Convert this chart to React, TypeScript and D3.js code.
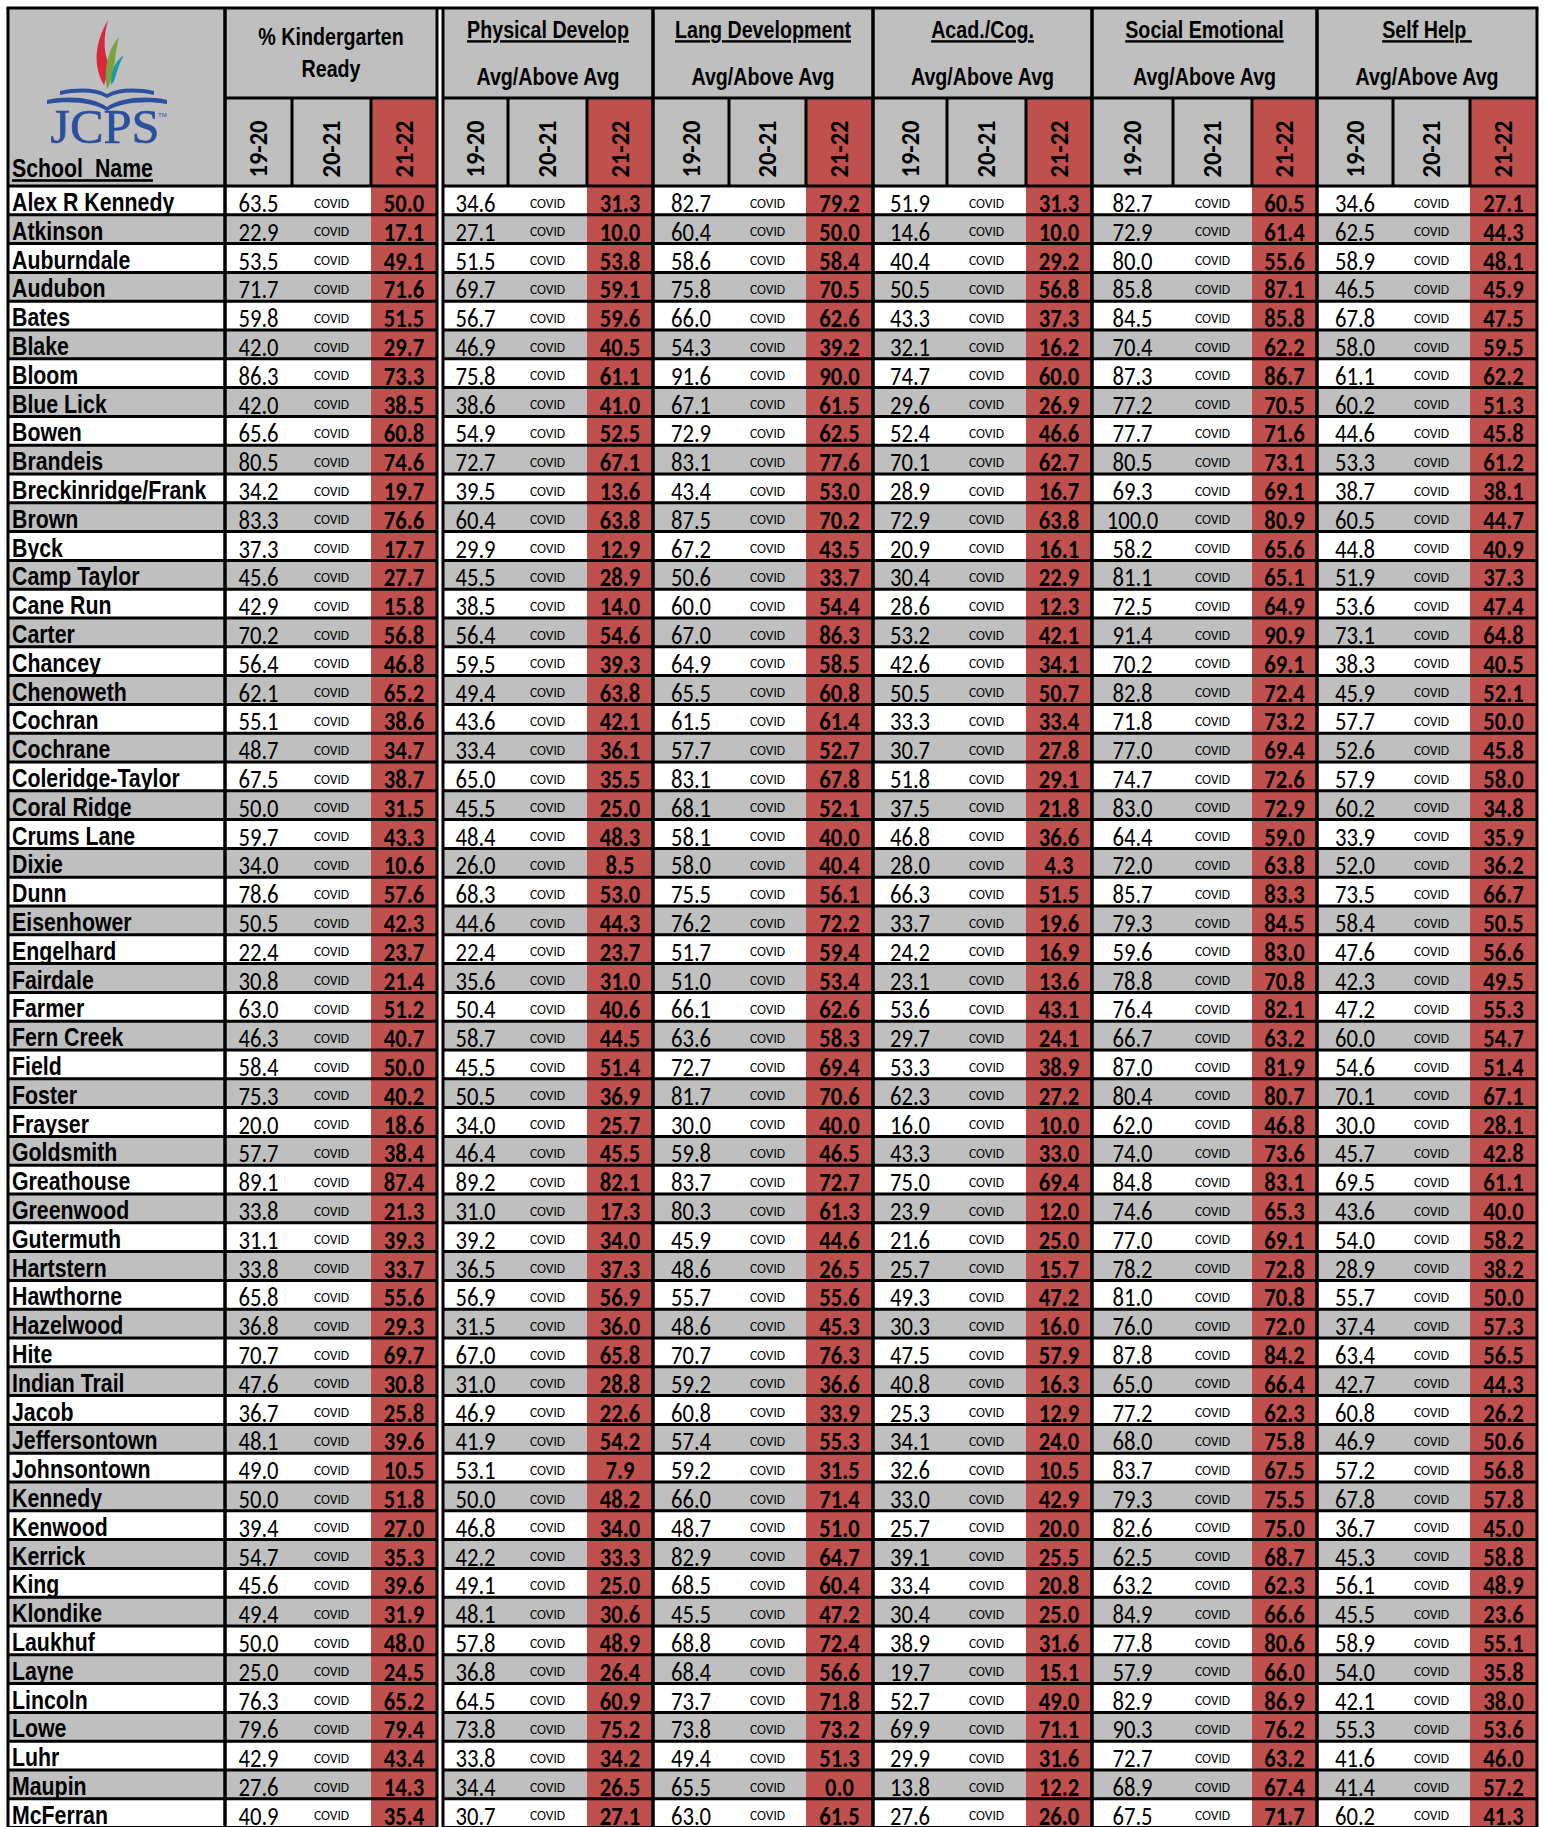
import * as d3 from "d3";

// --- data -------------------------------------------------------------
const schools = [
  "Alex R Kennedy", "Atkinson", "Auburndale", "Audubon", "Bates", "Blake", "Bloom", "Blue Lick",
  "Bowen", "Brandeis", "Breckinridge/Frank", "Brown", "Byck", "Camp Taylor", "Cane Run", "Carter",
  "Chancey", "Chenoweth", "Cochran", "Cochrane", "Coleridge-Taylor", "Coral Ridge", "Crums Lane",
  "Dixie", "Dunn", "Eisenhower", "Engelhard", "Fairdale", "Farmer", "Fern Creek", "Field", "Foster",
  "Frayser", "Goldsmith", "Greathouse", "Greenwood", "Gutermuth", "Hartstern", "Hawthorne",
  "Hazelwood", "Hite", "Indian Trail", "Jacob", "Jeffersontown", "Johnsontown", "Kennedy", "Kenwood",
  "Kerrick", "King", "Klondike", "Laukhuf", "Layne", "Lincoln", "Lowe", "Luhr", "Maupin", "McFerran",
];

const years = ["19-20", "20-21", "21-22"];
const covidLabel = "COVID";

const kr1920 = [63.5, 22.9, 53.5, 71.7, 59.8, 42.0, 86.3, 42.0, 65.6, 80.5, 34.2, 83.3, 37.3, 45.6, 42.9, 70.2, 56.4, 62.1, 55.1, 48.7, 67.5, 50.0, 59.7, 34.0, 78.6, 50.5, 22.4, 30.8, 63.0, 46.3, 58.4, 75.3, 20.0, 57.7, 89.1, 33.8, 31.1, 33.8, 65.8, 36.8, 70.7, 47.6, 36.7, 48.1, 49.0, 50.0, 39.4, 54.7, 45.6, 49.4, 50.0, 25.0, 76.3, 79.6, 42.9, 27.6, 40.9];
const kr2122 = [50.0, 17.1, 49.1, 71.6, 51.5, 29.7, 73.3, 38.5, 60.8, 74.6, 19.7, 76.6, 17.7, 27.7, 15.8, 56.8, 46.8, 65.2, 38.6, 34.7, 38.7, 31.5, 43.3, 10.6, 57.6, 42.3, 23.7, 21.4, 51.2, 40.7, 50.0, 40.2, 18.6, 38.4, 87.4, 21.3, 39.3, 33.7, 55.6, 29.3, 69.7, 30.8, 25.8, 39.6, 10.5, 51.8, 27.0, 35.3, 39.6, 31.9, 48.0, 24.5, 65.2, 79.4, 43.4, 14.3, 35.4];
const pd1920 = [34.6, 27.1, 51.5, 69.7, 56.7, 46.9, 75.8, 38.6, 54.9, 72.7, 39.5, 60.4, 29.9, 45.5, 38.5, 56.4, 59.5, 49.4, 43.6, 33.4, 65.0, 45.5, 48.4, 26.0, 68.3, 44.6, 22.4, 35.6, 50.4, 58.7, 45.5, 50.5, 34.0, 46.4, 89.2, 31.0, 39.2, 36.5, 56.9, 31.5, 67.0, 31.0, 46.9, 41.9, 53.1, 50.0, 46.8, 42.2, 49.1, 48.1, 57.8, 36.8, 64.5, 73.8, 33.8, 34.4, 30.7];
const pd2122 = [31.3, 10.0, 53.8, 59.1, 59.6, 40.5, 61.1, 41.0, 52.5, 67.1, 13.6, 63.8, 12.9, 28.9, 14.0, 54.6, 39.3, 63.8, 42.1, 36.1, 35.5, 25.0, 48.3, 8.5, 53.0, 44.3, 23.7, 31.0, 40.6, 44.5, 51.4, 36.9, 25.7, 45.5, 82.1, 17.3, 34.0, 37.3, 56.9, 36.0, 65.8, 28.8, 22.6, 54.2, 7.9, 48.2, 34.0, 33.3, 25.0, 30.6, 48.9, 26.4, 60.9, 75.2, 34.2, 26.5, 27.1];
const ld1920 = [82.7, 60.4, 58.6, 75.8, 66.0, 54.3, 91.6, 67.1, 72.9, 83.1, 43.4, 87.5, 67.2, 50.6, 60.0, 67.0, 64.9, 65.5, 61.5, 57.7, 83.1, 68.1, 58.1, 58.0, 75.5, 76.2, 51.7, 51.0, 66.1, 63.6, 72.7, 81.7, 30.0, 59.8, 83.7, 80.3, 45.9, 48.6, 55.7, 48.6, 70.7, 59.2, 60.8, 57.4, 59.2, 66.0, 48.7, 82.9, 68.5, 45.5, 68.8, 68.4, 73.7, 73.8, 49.4, 65.5, 63.0];
const ld2122 = [79.2, 50.0, 58.4, 70.5, 62.6, 39.2, 90.0, 61.5, 62.5, 77.6, 53.0, 70.2, 43.5, 33.7, 54.4, 86.3, 58.5, 60.8, 61.4, 52.7, 67.8, 52.1, 40.0, 40.4, 56.1, 72.2, 59.4, 53.4, 62.6, 58.3, 69.4, 70.6, 40.0, 46.5, 72.7, 61.3, 44.6, 26.5, 55.6, 45.3, 76.3, 36.6, 33.9, 55.3, 31.5, 71.4, 51.0, 64.7, 60.4, 47.2, 72.4, 56.6, 71.8, 73.2, 51.3, 0.0, 61.5];
const ac1920 = [51.9, 14.6, 40.4, 50.5, 43.3, 32.1, 74.7, 29.6, 52.4, 70.1, 28.9, 72.9, 20.9, 30.4, 28.6, 53.2, 42.6, 50.5, 33.3, 30.7, 51.8, 37.5, 46.8, 28.0, 66.3, 33.7, 24.2, 23.1, 53.6, 29.7, 53.3, 62.3, 16.0, 43.3, 75.0, 23.9, 21.6, 25.7, 49.3, 30.3, 47.5, 40.8, 25.3, 34.1, 32.6, 33.0, 25.7, 39.1, 33.4, 30.4, 38.9, 19.7, 52.7, 69.9, 29.9, 13.8, 27.6];
const ac2122 = [31.3, 10.0, 29.2, 56.8, 37.3, 16.2, 60.0, 26.9, 46.6, 62.7, 16.7, 63.8, 16.1, 22.9, 12.3, 42.1, 34.1, 50.7, 33.4, 27.8, 29.1, 21.8, 36.6, 4.3, 51.5, 19.6, 16.9, 13.6, 43.1, 24.1, 38.9, 27.2, 10.0, 33.0, 69.4, 12.0, 25.0, 15.7, 47.2, 16.0, 57.9, 16.3, 12.9, 24.0, 10.5, 42.9, 20.0, 25.5, 20.8, 25.0, 31.6, 15.1, 49.0, 71.1, 31.6, 12.2, 26.0];
const se1920 = [82.7, 72.9, 80.0, 85.8, 84.5, 70.4, 87.3, 77.2, 77.7, 80.5, 69.3, 100.0, 58.2, 81.1, 72.5, 91.4, 70.2, 82.8, 71.8, 77.0, 74.7, 83.0, 64.4, 72.0, 85.7, 79.3, 59.6, 78.8, 76.4, 66.7, 87.0, 80.4, 62.0, 74.0, 84.8, 74.6, 77.0, 78.2, 81.0, 76.0, 87.8, 65.0, 77.2, 68.0, 83.7, 79.3, 82.6, 62.5, 63.2, 84.9, 77.8, 57.9, 82.9, 90.3, 72.7, 68.9, 67.5];
const se2122 = [60.5, 61.4, 55.6, 87.1, 85.8, 62.2, 86.7, 70.5, 71.6, 73.1, 69.1, 80.9, 65.6, 65.1, 64.9, 90.9, 69.1, 72.4, 73.2, 69.4, 72.6, 72.9, 59.0, 63.8, 83.3, 84.5, 83.0, 70.8, 82.1, 63.2, 81.9, 80.7, 46.8, 73.6, 83.1, 65.3, 69.1, 72.8, 70.8, 72.0, 84.2, 66.4, 62.3, 75.8, 67.5, 75.5, 75.0, 68.7, 62.3, 66.6, 80.6, 66.0, 86.9, 76.2, 63.2, 67.4, 71.7];
const sh1920 = [34.6, 62.5, 58.9, 46.5, 67.8, 58.0, 61.1, 60.2, 44.6, 53.3, 38.7, 60.5, 44.8, 51.9, 53.6, 73.1, 38.3, 45.9, 57.7, 52.6, 57.9, 60.2, 33.9, 52.0, 73.5, 58.4, 47.6, 42.3, 47.2, 60.0, 54.6, 70.1, 30.0, 45.7, 69.5, 43.6, 54.0, 28.9, 55.7, 37.4, 63.4, 42.7, 60.8, 46.9, 57.2, 67.8, 36.7, 45.3, 56.1, 45.5, 58.9, 54.0, 42.1, 55.3, 41.6, 41.4, 60.2];
const sh2122 = [27.1, 44.3, 48.1, 45.9, 47.5, 59.5, 62.2, 51.3, 45.8, 61.2, 38.1, 44.7, 40.9, 37.3, 47.4, 64.8, 40.5, 52.1, 50.0, 45.8, 58.0, 34.8, 35.9, 36.2, 66.7, 50.5, 56.6, 49.5, 55.3, 54.7, 51.4, 67.1, 28.1, 42.8, 61.1, 40.0, 58.2, 38.2, 50.0, 57.3, 56.5, 44.3, 26.2, 50.6, 56.8, 57.8, 45.0, 58.8, 48.9, 23.6, 55.1, 35.8, 38.0, 53.6, 46.0, 57.2, 41.3];

const groupTitles = [
  ["% Kindergarten", "Ready"],
  ["Physical Develop", "Avg/Above Avg"],
  ["Lang Development", "Avg/Above Avg"],
  ["Acad./Cog.", "Avg/Above Avg"],
  ["Social Emotional", "Avg/Above Avg"],
  ["Self Help\u00A0", "Avg/Above Avg"],
];
const groupValues = [
  [kr1920, kr2122],
  [pd1920, pd2122],
  [ld1920, ld2122],
  [ac1920, ac2122],
  [se1920, se2122],
  [sh1920, sh2122],
];

// --- layout -----------------------------------------------------------
const W = 1551;
const H = 1827;
const X0 = 8;
const Y0 = 8;
const NAME_W = 217;
const HEAD1_B = 98;
const HEAD2_B = 186;
const ROW_H = 28.8;
const GAP = 6;
const subWidths = [
  [67, 79, 66],
  [65, 79, 66],
  [76, 77, 67],
  [74, 79, 66],
  [81, 79, 65],
  [76, 77, 67],
];

const GRAY = "#BFBFBF";
const RED = "#C0504D";
const LOGO_BLUE = "#2C4F9E";
// Arial Narrow look-alike: Liberation Sans squeezed horizontally
const NARROW = "'Liberation Sans', Arial, sans-serif";
const NARROW_SX = 0.82;
// Calibri look-alike
const NUMF = "Carlito, Calibri, Lato, sans-serif";
const NUM_SX = 0.87;

// column edges per group
let cursor = X0 + NAME_W;
const groups = subWidths.map((ws, i) => {
  const edges = [cursor, ...d3.cumsum(ws).map((c) => cursor + c)];
  cursor = edges[3] + (i === 0 ? GAP : 0);
  return edges;
});
const RIGHT = groups[groups.length - 1][3];
const gapL = groups[0][3];
const gapR = groups[1][0];

const y = d3
  .scaleBand<string>()
  .domain(schools)
  .range([HEAD2_B, HEAD2_B + schools.length * ROW_H]);

const fmt = d3.format(".1f");

function Logo() {
  return (
    <g>
      <path d="M104,85 C95,70 92,47 108,20 C103,38 104,52 108,62 C108,72 106,80 104,85 Z" fill="#D7263D" />
      <path d="M107,89 C104,72 106,52 119,37 C115,52 115,65 113,75 C111,81 109,86 107,89 Z" fill="#7BA23F" />
      <path d="M111,85 C111,72 114,62 124,55 C119,64 117,72 114,81 Z" fill="#1A9BA7" />
      <path d="M60,91 C80,87 96,88 107,94 L107,98 C96,92 80,91 60,95 Z" fill={LOGO_BLUE} />
      <path d="M154,91 C134,87 118,88 107,94 L107,98 C118,92 134,91 154,95 Z" fill={LOGO_BLUE} />
      <path d="M47,100 C70,95 95,98 107,107 L107,111 C95,103 70,100 47,104 Z" fill={LOGO_BLUE} />
      <path d="M167,100 C144,95 119,98 107,107 L107,111 C119,103 144,100 167,104 Z" fill={LOGO_BLUE} />
      <text
        transform="translate(105,143) scale(1.05,1)"
        textAnchor="middle"
        fontFamily="'Liberation Serif', serif"
        fontSize={48}
        fill={LOGO_BLUE}
        stroke={LOGO_BLUE}
        strokeWidth={0.6}
      >
        JCPS
      </text>
      <text x={158} y={117} fontFamily="'Liberation Sans', sans-serif" fontSize={6} fill={LOGO_BLUE}>
        TM
      </text>
    </g>
  );
}

function NText({ x, y, size, anchor = "start", underline = false, children }: any) {
  return (
    <text
      transform={`translate(${x},${y}) scale(${NARROW_SX},1)`}
      textAnchor={anchor}
      fontFamily={NARROW}
      fontWeight="bold"
      fontSize={size}
      textDecoration={underline ? "underline" : undefined}
      style={{ whiteSpace: "pre" }}
    >
      {children}
    </text>
  );
}

function Num({ x, y, bold = false, children }: any) {
  return (
    <text
      transform={`translate(${x},${y}) scale(${NUM_SX},1)`}
      textAnchor="middle"
      fontFamily={NUMF}
      fontWeight={bold ? "bold" : "normal"}
      fontSize={26}
    >
      {children}
    </text>
  );
}

export default function App() {
  const rowTop = (s: string) => y(s) as number;
  const lines: JSX.Element[] = [];
  const hLine = (x1: number, x2: number, yy: number, k: string) =>
    lines.push(<line key={k} x1={x1} x2={x2} y1={yy} y2={yy} stroke="#000" strokeWidth={3} />);
  const vLine = (xx: number, y1: number, y2: number, k: string) =>
    lines.push(<line key={k} x1={xx} x2={xx} y1={y1} y2={y2} stroke="#000" strokeWidth={3} />);

  hLine(X0 - 1.5, RIGHT + 1.5, Y0, "top");
  hLine(X0 + NAME_W, gapL, HEAD1_B, "h1a");
  hLine(gapR, RIGHT, HEAD1_B, "h1b");
  [HEAD2_B, ...schools.map((s) => rowTop(s) + ROW_H)].forEach((yy, i) => {
    hLine(X0, gapL, yy, "ra" + i);
    hLine(gapR, RIGHT, yy, "rb" + i);
  });
  vLine(X0, Y0, H, "vl");
  vLine(X0 + NAME_W, Y0, H, "vn");
  groups.forEach((e, gi) => {
    vLine(e[0], Y0, H, "gs" + gi);
    vLine(e[3], Y0, H, "ge" + gi);
    vLine(e[1], HEAD1_B, HEAD2_B, "s1" + gi);
    vLine(e[2], HEAD1_B, HEAD2_B, "s2" + gi);
  });

  return (
    <svg width={W} height={H} style={{ position: "fixed", left: 0, top: 0 }}>
      <rect x={0} y={0} width={W} height={H} fill="#fff" />
      {/* header background */}
      <rect x={X0} y={Y0} width={RIGHT - X0} height={HEAD2_B - Y0} fill={GRAY} />
      {groups.map((e, gi) => (
        <rect key={"hr" + gi} x={e[2]} y={HEAD1_B} width={e[3] - e[2]} height={HEAD2_B - HEAD1_B} fill={RED} />
      ))}
      {/* body rows */}
      {schools.map((s, ri) => {
        const bg = ri % 2 === 0 ? "#fff" : GRAY;
        const t = rowTop(s);
        return (
          <g key={"row" + ri}>
            <rect x={X0} y={t} width={RIGHT - X0} height={ROW_H} fill={bg} />
            {groups.map((e, gi) => (
              <rect key={gi} x={e[2]} y={t} width={e[3] - e[2]} height={ROW_H} fill={RED} />
            ))}
          </g>
        );
      })}
      <rect x={gapL} y={Y0} width={gapR - gapL} height={H} fill="#fff" />
      {lines}

      {/* header texts */}
      <Logo />
      <NText x={12} y={177} size={26} underline>
        {"School  Name"}
      </NText>
      {groups.map((e, gi) => {
        const cx = (e[0] + e[3]) / 2;
        const [t1, t2] = groupTitles[gi];
        return (
          <g key={"gh" + gi}>
            {gi === 0 ? (
              <>
                <NText x={cx} y={45} size={24} anchor="middle">{t1}</NText>
                <NText x={cx} y={77} size={24} anchor="middle">{t2}</NText>
              </>
            ) : (
              <>
                <NText x={cx} y={38} size={24} anchor="middle" underline>{t1}</NText>
                <NText x={cx} y={85} size={24} anchor="middle">{t2}</NText>
              </>
            )}
            {years.map((yr, k) => {
              const sx = (e[k] + e[k + 1]) / 2;
              return (
                <text
                  key={yr}
                  transform={`translate(${sx},${149}) rotate(-90) scale(0.94,1)`}
                  textAnchor="middle"
                  dominantBaseline="central"
                  fontFamily={NUMF}
                  fontWeight="bold"
                  fontSize={26}
                >
                  {yr}
                </text>
              );
            })}
          </g>
        );
      })}

      {/* body texts */}
      {schools.map((s, ri) => {
        const t = rowTop(s);
        return (
          <g key={"rt" + ri}>
            <NText x={12} y={t + 25} size={26}>
              {s}
            </NText>
            {groups.map((e, gi) => {
              const [a, c] = groupValues[gi];
              return (
                <g key={gi}>
                  <Num x={(e[0] + e[1]) / 2} y={t + 26}>
                    {fmt(a[ri])}
                  </Num>
                  <text x={(e[1] + e[2]) / 2} y={t + 21.5} textAnchor="middle" fontFamily={NUMF} fontSize={13.5}>
                    {covidLabel}
                  </text>
                  <Num x={(e[2] + e[3]) / 2} y={t + 26} bold>
                    {fmt(c[ri])}
                  </Num>
                </g>
              );
            })}
          </g>
        );
      })}
    </svg>
  );
}
